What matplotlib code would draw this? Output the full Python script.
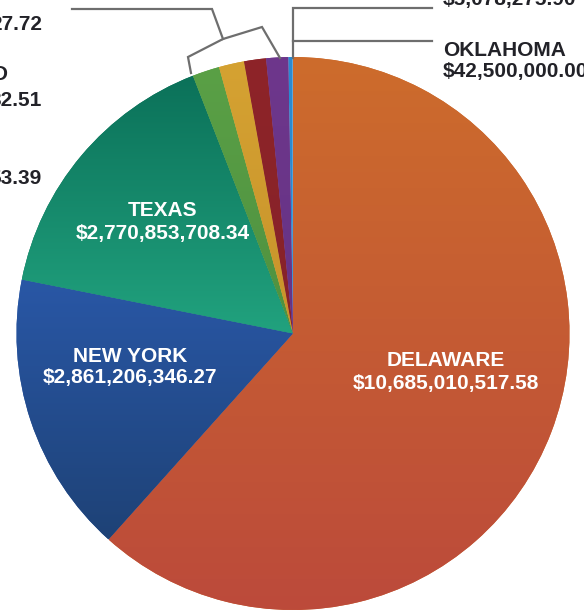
import numpy as np
import matplotlib
matplotlib.use("Agg")
import matplotlib.pyplot as plt
from matplotlib.colors import LinearSegmentedColormap

# ---- data ----
names = ["DELAWARE", "NEW YORK", "TEXAS", "GREEN", "GOLD", "DARK RED", "PURPLE",
         "OKLAHOMA", "TINY"]
values = [10685010517.58, 2861206346.27, 2770853708.34, 275000000.0, 256000000.0,
          222000000.0, 222000000.0, 42500000.00, 5078275.90]
top_colors = ["#CD6C2C", "#2957A6", "#0B7159", "#5AA046", "#D5A232", "#8E2428",
              "#6E378C", "#2A8AD0", "#2A8AD0"]
bottom_colors = ["#BC4A3B", "#1E4276", "#21A27E", "#4F9140", "#C8932B", "#86222A",
                 "#663385", "#2A8AD0", "#2A8AD0"]
inside_labels = ["DELAWARE", "NEW YORK", "TEXAS"]
left_fragments = ["27.72", "D", "32.51", "53.39"]

# ---- geometry helpers (pixel -> data) ----
W, H = 584, 613
CX, CY, R = 293, 333.5, 276.5


def px(x, y):
    return (x - CX) / R, (CY - y) / R


fig = plt.figure(figsize=(W / 100, H / 100), dpi=100)
ax = fig.add_axes([0, 0, 1, 1])
ax.axis("off")

wedges, _ = ax.pie(values, colors=top_colors, startangle=90, counterclock=False,
                   radius=1, center=(0, 0), wedgeprops=dict(linewidth=0))

grad = np.linspace(0, 1, 256).reshape(-1, 1)
for w, c_top, c_bot in zip(wedges, top_colors, bottom_colors):
    if c_top == c_bot:
        continue
    verts = w.get_path().vertices
    x0, x1 = verts[:, 0].min(), verts[:, 0].max()
    y0, y1 = verts[:, 1].min(), verts[:, 1].max()
    cmap = LinearSegmentedColormap.from_list("g", [c_bot, c_top])
    im = ax.imshow(grad, extent=(x0, x1, y0, y1), origin="lower", cmap=cmap,
                   aspect="auto", zorder=w.get_zorder() + 0.1, interpolation="bilinear")
    im.set_clip_path(w)

xl = px(0, 0)[0], px(W, 0)[0]
yl = px(0, H)[1], px(0, 0)[1]
ax.set_xlim(*xl)
ax.set_ylim(*yl)
ax.set_aspect("auto")

def money(v):
    return f"${v:,.2f}"

font = dict(family=["Liberation Sans", "DejaVu Sans"], fontweight="bold", fontsize=15)

# inside labels
inside_pos = {"DELAWARE": (446, 372), "NEW YORK": (130, 367), "TEXAS": (163, 222)}
for name in inside_labels:
    v = values[names.index(name)]
    x, y = px(*inside_pos[name])
    ax.text(x, y, f"{name}\n{money(v)}", color="white", ha="center", va="center",
            linespacing=1.2, zorder=5, **font)

dark = "#222228"
# Oklahoma label
x, y = px(443, 61)
ax.text(x, y, f"OKLAHOMA\n{money(values[names.index('OKLAHOMA')])}", color=dark,
        ha="left", va="center", linespacing=1.2, **font)
# tiny slice value (cut at top)
x, y = px(443, 5)
ax.text(x, y, money(values[names.index("TINY")]), color=dark, ha="left",
        va="baseline", **font)

# left fragments (labels cut by the left edge)
frag_pos = [(42, 25), (8, 75), (42, 100), (42, 178)]
for t, (fx, fy) in zip(left_fragments, frag_pos):
    x, y = px(fx, fy)
    ax.text(x, y, t, color=dark, ha="right", va="center", **font)

# leader lines
gray = "#6E6E6E"
lines = [
    [(293, 58), (293, 8), (432, 8)],
    [(293, 41), (432, 41)],
    [(72, 9), (212, 9), (223, 39)],
    [(191, 73), (188, 57), (223, 39), (262, 27), (280, 58)],
]
for pts in lines:
    d = np.array([px(*p) for p in pts])
    ax.plot(d[:, 0], d[:, 1], color=gray, lw=1.6, solid_joinstyle="miter", zorder=3)

fig.savefig("out.png", dpi=100)
